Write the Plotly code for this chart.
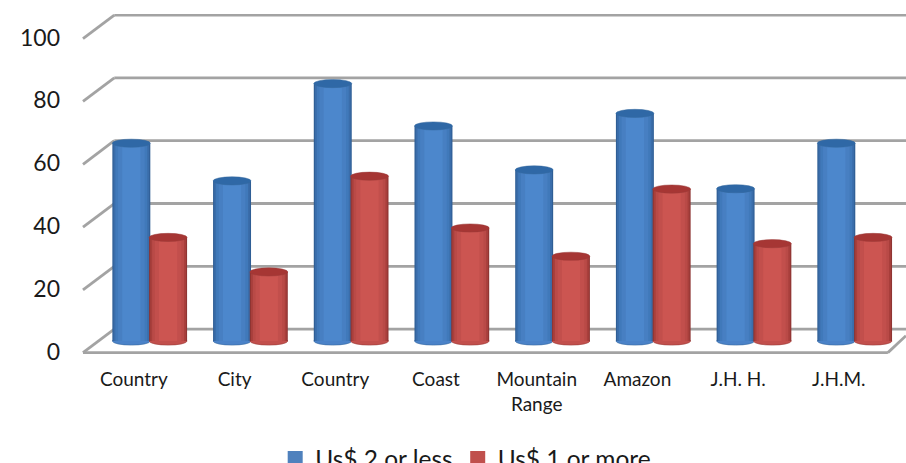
import plotly.graph_objects as go

categories = ["Country", "City", "Country", "Coast", "Mountain<br>Range", "Amazon", "J.H. H.", "J.H.M."]
us2_or_less = [63, 51, 82, 68.5, 54.5, 72.5, 48.5, 63]
us1_or_more = [33, 22, 52.5, 36, 27, 48.4, 31, 33]
y_ticks = [0, 20, 40, 60, 80, 100]

FONT = "Lato"
GRID = "#A3A3A3"
FLOOR = 3.34       # bars stand mid-way in the depth of the floor
DEPTH_BACK = 7.14  # back wall offset
DEPTH_FRONT = -0.36 # front edge offset
BACK_X = 0.038     # paper x where the walls begin
CAP = 1.3          # half height of ellipse, y units
BAR_W = 0.377

x_idx = list(range(len(categories)))
series = [
    (us2_or_less, -0.185, "Us$ 2 or less", "#4F81BD",
     ["#2F5E95", "#3A6DAA", "#4079BA", "#477FC2", "#4C87CC"], "#2F68A6", "#4A82C8", "#35689F"),
    (us1_or_more, 0.18, "Us$ 1 or more", "#C0504D",
     ["#8F3533", "#A83F3C", "#B94A47", "#C24F4C", "#CC5551"], "#A63634", "#C24F4C", "#9A3B38"),
]
layers = [1.0, 0.94, 0.84, 0.7, 0.48]

fig = go.Figure()
shapes = []

# walls and floor
for v in y_ticks:
    shapes.append(dict(type="line", xref="paper", yref="y", x0=0, x1=BACK_X,
                       y0=v + DEPTH_FRONT, y1=v + DEPTH_BACK,
                       line=dict(color=GRID, width=2.8), layer="below"))
    shapes.append(dict(type="line", xref="paper", yref="y", x0=BACK_X, x1=1,
                       y0=v + DEPTH_BACK, y1=v + DEPTH_BACK,
                       line=dict(color=GRID, width=2.8), layer="below"))
shapes.append(dict(type="line", xref="paper", yref="y", x0=0, x1=0.978,
                   y0=DEPTH_FRONT, y1=DEPTH_FRONT, line=dict(color=GRID, width=2.8), layer="below"))
shapes.append(dict(type="line", xref="paper", yref="y", x0=0.978, x1=1,
                   y0=DEPTH_FRONT, y1=5.04, line=dict(color=GRID, width=2.8), layer="below"))

for values, off, name, legend_col, shades, cap_col, bottom_col, edge_col in series:
    for w, col in zip(layers, shades):
        fig.add_trace(go.Bar(x=[i + off for i in x_idx], y=values, base=FLOOR, width=BAR_W * w,
                             marker=dict(color=col, line=dict(width=0)),
                             showlegend=False, hoverinfo="skip"))
    for i, v in zip(x_idx, values):
        x0, x1 = i + off - BAR_W / 2, i + off + BAR_W / 2
        shapes.append(dict(type="circle", xref="x", yref="y", x0=x0, x1=x1,
                           y0=FLOOR - CAP, y1=FLOOR + CAP, fillcolor=bottom_col,
                           line=dict(color=edge_col, width=0.6), layer="below"))
        shapes.append(dict(type="circle", xref="x", yref="y", x0=x0, x1=x1,
                           y0=FLOOR + v - CAP, y1=FLOOR + v + CAP, fillcolor=cap_col,
                           line=dict(color=edge_col, width=0.5), layer="above"))

for values, off, name, legend_col, *_ in series:
    fig.add_trace(go.Scatter(x=[None], y=[None], mode="markers", name=name,
                             marker=dict(symbol="square", size=15, color=legend_col)))

fig.update_layout(
    width=906, height=463, margin=dict(l=83, r=0, t=14, b=107, autoexpand=False),
    paper_bgcolor="white", plot_bgcolor="white", barmode="overlay", shapes=shapes,
    font=dict(family=FONT, color="#1a1a1a"),
    xaxis=dict(range=[-0.665, 7.507], tickmode="array",
               tickvals=[i - 0.16 for i in x_idx], ticktext=categories,
               tickfont=dict(size=19), showgrid=False, zeroline=False, showline=False,
               ticks="", ticklabelstandoff=10, tickangle=0),
    yaxis=dict(range=[-1.43, 107.5], tickmode="array", tickvals=y_ticks,
               tickfont=dict(size=23), showgrid=False, zeroline=False, showline=False,
               ticks="", ticklabelstandoff=22),
    legend=dict(orientation="h", x=0.465, xanchor="center", y=-0.3, yanchor="middle",
                font=dict(size=24.5), itemsizing="trace", bgcolor="rgba(0,0,0,0)"),
)
fig.write_html("out.html", config={"displayModeBar": False},
               post_script="document.body.style.margin='0';")
